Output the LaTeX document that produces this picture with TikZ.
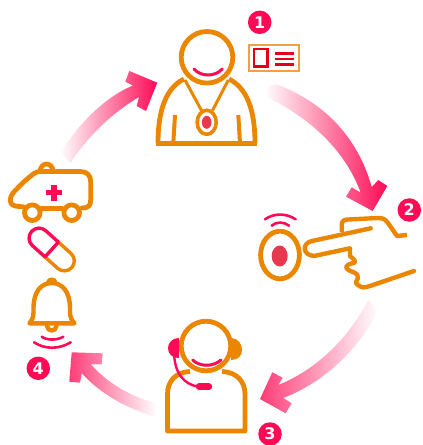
\documentclass[tikz,border=0pt]{standalone}
\usepackage{fontspec}
\setmainfont{DejaVu Sans}
\definecolor{orng}{HTML}{EA8600}
\definecolor{pnk}{HTML}{FF0A55}
\definecolor{pnkb}{HTML}{FF3D78}
\definecolor{dotred}{HTML}{E8384F}
\definecolor{cardline}{HTML}{F4A040}
\definecolor{cardred}{HTML}{E2001A}
\tikzset{
  oline/.style={draw=orng,line width=4.8pt,line cap=round,line join=round},
  hline/.style={draw=orng,line width=4.4pt,line cap=round,line join=round},
  pline/.style={draw=pnk,line width=3pt,line cap=round},
  wave/.style={draw=pnk,line width=2.6pt,line cap=round},
  badge/.style={circle,fill=pnk,text=white,inner sep=0pt,minimum size=23.5pt,font=\fontsize{16}{16}\selectfont\bfseries},
  fadea/.style={left color=white,middle color=pnk!58!white,right color=pnk},
  fadeb/.style={left color=white,middle color=pnk!75!white,right color=pnk},
  fadec/.style={left color=pnkb,middle color=pnkb!75!white,right color=white},
}
\begin{document}
\begin{tikzpicture}[x=1pt,y=-1pt]
\useasboundingbox (0,0) rectangle (423,445);
% cycle arrows
\shade[fadea] (157.3,82.7) -- (129.3,71) -- (125.3,81.7) -- (133,85.5)
  .. controls (103,98) and (78,125) .. (60,153.3) -- (70.7,162.7)
  .. controls (88,136) and (112,113) .. (139,97) -- (136.7,106) -- (146,111) -- cycle;
\shade[fadeb] (278.3,85)
  .. controls (325,103) and (358,138) .. (371.7,187) -- (378.3,180) -- (387.3,186) -- (372.7,211)
  -- (346,196.7) -- (351.7,187.3) -- (360.7,192.7)
  .. controls (345,150) and (310,118) .. (266.7,97)
  .. controls (264,92) and (270,82) .. (278.3,85) -- cycle;
\shade[fadec] (368.3,300) .. controls (350,335) and (320,368) .. (278.3,385)
  -- (282.7,377.7) -- (272.3,372.3) -- (260,399) -- (285.7,413.3) -- (291.7,403.3) -- (283.3,398)
  .. controls (325,382) and (360,348) .. (378.3,310) -- cycle;
\shade[fadec] (71.7,352.3) -- (102.7,353.3) -- (101.7,364.3) -- (90.7,364.3)
  .. controls (110,385) and (130,396) .. (156.7,403.3) -- (155,416.7)
  .. controls (125,408) and (100,393) .. (81.7,373.3) -- (80,382.7) -- (69.3,381.7) -- cycle;
% badges
\node[badge] (n1) at (259.7,22.3) {1};
\node[badge] (n2) at (409.3,210) {2};
\node[badge] (n3) at (270,434) {3};
\node[badge] (n4) at (38.3,368.3) {4};
% person with medallion
\draw[oline,line cap=butt] (158,143.5) .. controls (158,110) and (166,88) .. (184,79);
\draw[oline,line cap=butt] (255,143.5) .. controls (255,110) and (247,88) .. (229,79);
\draw[oline,fill=white] (207,57.3) circle[radius=25.8pt];
\draw[pline] (194,69) .. controls (201,77) and (215,77) .. (222.3,69);
\draw[oline,line cap=butt] (155.7,143.3) -- (257,143.3);
\draw[draw=orng,line width=3pt] (185,80) -- (201.5,110.5) (228.3,80) -- (212.5,110.5);
\draw[draw=orng,line width=3.6pt,fill=white] (206.7,122.3) ellipse[x radius=9.5pt,y radius=12pt];
\fill[dotred] (206.7,122.3) ellipse[x radius=4.8pt,y radius=6.5pt];
\draw[draw=orng,line width=4pt] (175,115) -- (173.3,143) (238.3,115) -- (240,143);
% id card
\draw[draw=cardline,line width=1.6pt,fill=white] (249,45) rectangle (299,71);
\draw[draw=cardred,line width=2.8pt] (254,49) rectangle (267.3,66.7);
\draw[draw=cardred,line width=2.4pt] (275,53.3) -- (294,53.3) (275,59) -- (294,59) (275,64.3) -- (294,64.3);
% button
\draw[oline] (280,255) ellipse[x radius=19.4pt,y radius=23.8pt];
\fill[dotred] (279.7,256) ellipse[x radius=8pt,y radius=10.5pt];
\draw[wave] (265,219.3) .. controls (274,213) and (286,213) .. (295.7,219.3);
\draw[wave] (271.7,225.7) .. controls (276,221.5) and (284,221.5) .. (289,225.7);
% hand
\draw[hline] (370.7,228.3) -- (312,241) .. controls (302,243) and (302,255) .. (314,256) -- (350,248.3)
  -- (350,256) .. controls (352,259) and (356,259) .. (354.5,263)
  .. controls (350,263) and (344,266) .. (347,269)
  .. controls (350,272) and (359,272) .. (358,278)
  .. controls (356,282) and (355,283) .. (358,285)
  .. controls (362,288) and (364,288) .. (370,286) -- (414,271);
\draw[hline,line cap=butt] (341.7,232) -- (341.7,225) .. controls (341.7,221) and (344,219.5) .. (348,219.5)
  -- (378,218) .. controls (383,218) and (385,219) .. (388,223) -- (397,236) -- (407,235);
% operator
\fill[pnk] (178.8,338) .. controls (172,338) and (168,343) .. (168,348) .. controls (168,354) and (172,358) .. (178.8,358) -- cycle;
\fill[orng] (231,338) .. controls (238,338) and (242,344) .. (242,350) .. controls (242,356) and (238,360) .. (231,360) -- cycle;
\draw[oline,line cap=butt] (190,371.5) .. controls (176,372) and (167.5,381) .. (167.5,394) -- (167.5,431) -- (245,431) -- (245,394) .. controls (245,381) and (236,372) .. (222,371.5);
\draw[oline,fill=white] (206,346) circle[radius=24.8pt];
\draw[pline] (192.7,360) .. controls (200,367) and (213,367) .. (221,360);
\draw[draw=pnk,line width=2.4pt] (174.3,356) .. controls (175,372) and (183,384) .. (198,386.7);
\draw[draw=pnk,line width=6.5pt,line cap=round] (199,386.7) -- (209,386.7);
% ambulance
\draw[oline] (40,171.5) .. controls (41,161.5) and (52,161.5) .. (53.3,171.5);
\draw[oline] (24,207) -- (15,206) .. controls (9,205) and (9,198) .. (13,193) .. controls (20,185) and (28,178) .. (34,173.5) .. controls (36,172) and (38,171.5) .. (41,171.5)
  -- (80,171.5) .. controls (87,171.5) and (90.7,175) .. (90.7,182) -- (90.7,200) .. controls (90.7,206) and (88,208) .. (82,208);
\draw[oline] (41.5,208.3) -- (62,208.3);
\draw[oline,fill=white] (32.3,212.7) circle[radius=7.8pt];
\draw[oline,fill=white] (71.7,212.7) circle[radius=7.8pt];
\draw[draw=pnk,line width=5.5pt] (46,192.7) -- (62,192.7) (54,184.7) -- (54,200.7);
% pill
\begin{scope}[shift={(51.7,249.5)},rotate=-42]
\draw[draw=orng,line width=3.4pt,rounded corners=10pt] (0,-10) -- (27,-10) -- (27,10) -- (0,10);
\draw[draw=pnk,line width=3.4pt,rounded corners=10pt] (0,-10) -- (-27,-10) -- (-27,10) -- (0,10);
\draw[draw=pnk,line width=3.4pt,line cap=round] (0,-10) -- (0,10);
\end{scope}
% bell
\draw[hline] (48,283) .. controls (48.5,278.5) and (55,278.5) .. (55.5,283);
\draw[hline] (29.5,323.3) .. controls (34,318) and (33.5,314) .. (33.5,308) .. controls (33.5,292) and (41,283) .. (51.7,283)
  .. controls (62.5,283) and (70,292) .. (70,308) .. controls (70,314) and (69.5,318) .. (74.5,323.3) -- cycle;
\draw[hline] (47,326) .. controls (47.5,332) and (56,332) .. (56.5,326);
\draw[wave] (41.7,336.7) .. controls (47,340.5) and (57,340.5) .. (63.3,336.7);
\draw[wave] (34,342.3) .. controls (45,349.5) and (59,349.5) .. (70.7,342.3);
\end{tikzpicture}
\end{document}
